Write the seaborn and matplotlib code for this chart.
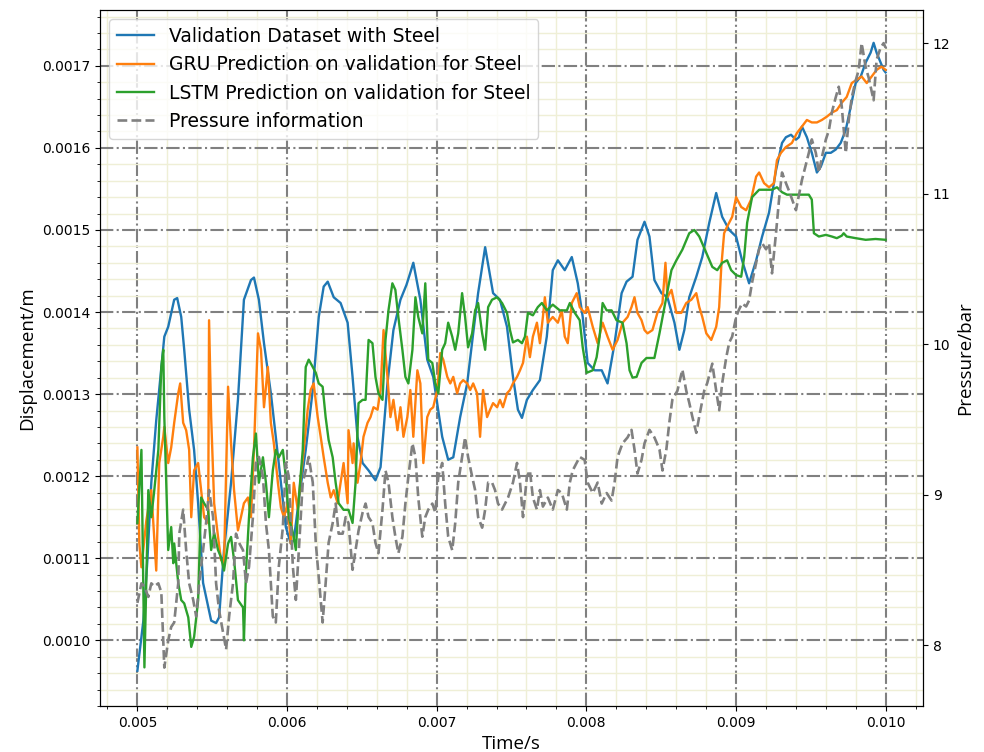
import numpy as np
import matplotlib
matplotlib.use("Agg")
import matplotlib.pyplot as plt
from matplotlib.ticker import AutoMinorLocator
import seaborn as sns

# ---- measured displacement (micrometres) and pressure (bar) against time (ms) ----
valid_ms = [5.000, 5.040, 5.067, 5.093, 5.126, 5.160, 5.180, 5.206, 5.246, 5.266,
            5.293, 5.313, 5.346, 5.379, 5.406, 5.439, 5.493, 5.526, 5.546, 5.579,
            5.626, 5.672, 5.712, 5.759, 5.779, 5.812, 5.846, 5.892, 5.925, 5.959,
            5.992, 6.025, 6.045, 6.079, 6.125, 6.172, 6.212, 6.245, 6.272, 6.312,
            6.358, 6.405, 6.438, 6.471, 6.505, 6.545, 6.591, 6.625, 6.671, 6.711,
            6.758, 6.798, 6.824, 6.844, 6.891, 6.937, 6.977, 7.037, 7.077, 7.111,
            7.157, 7.204, 7.244, 7.277, 7.324, 7.377, 7.423, 7.470, 7.510, 7.543,
            7.570, 7.603, 7.643, 7.690, 7.736, 7.776, 7.810, 7.856, 7.903, 7.943,
            7.976, 8.009, 8.056, 8.103, 8.142, 8.189, 8.236, 8.269, 8.309, 8.342,
            8.389, 8.422, 8.455, 8.502, 8.542, 8.589, 8.622, 8.655, 8.688, 8.735,
            8.775, 8.822, 8.868, 8.908, 8.955, 9.001, 9.041, 9.088, 9.135, 9.175,
            9.221, 9.268, 9.308, 9.334, 9.368, 9.401, 9.421, 9.441, 9.474, 9.507,
            9.541, 9.567, 9.601, 9.634, 9.667, 9.700, 9.734, 9.767, 9.800, 9.834,
            9.867, 9.900, 9.920, 9.940, 9.967, 9.987, 10.000]
valid_um = [963, 1024, 1098, 1192, 1268, 1333, 1370, 1382, 1415, 1417,
            1394, 1354, 1281, 1232, 1167, 1070, 1024, 1021, 1028, 1110,
            1192, 1293, 1415, 1439, 1442, 1415, 1362, 1301, 1248, 1192,
            1138, 1118, 1122, 1171, 1232, 1305, 1394, 1431, 1437, 1418,
            1411, 1387, 1321, 1248, 1216, 1207, 1195, 1211, 1313, 1378,
            1415, 1433, 1448, 1460, 1415, 1342, 1321, 1248, 1220, 1223,
            1272, 1313, 1374, 1423, 1479, 1423, 1415, 1382, 1321, 1281,
            1271, 1293, 1305, 1317, 1370, 1451, 1463, 1451, 1467, 1435,
            1394, 1338, 1329, 1329, 1313, 1362, 1423, 1437, 1443, 1488,
            1510, 1492, 1439, 1423, 1418, 1387, 1354, 1378, 1418, 1443,
            1467, 1509, 1545, 1516, 1500, 1492, 1463, 1435, 1463, 1492,
            1521, 1573, 1606, 1613, 1616, 1610, 1613, 1626, 1613, 1594,
            1570, 1577, 1594, 1594, 1598, 1606, 1622, 1650, 1679, 1687,
            1704, 1716, 1728, 1716, 1704, 1695, 1692]

gru_ms = [5.000, 5.013, 5.027, 5.060, 5.093, 5.126, 5.146, 5.173, 5.180, 5.206,
          5.226, 5.246, 5.273, 5.286, 5.306, 5.326, 5.346, 5.360, 5.379, 5.406,
          5.426, 5.446, 5.473, 5.479, 5.493, 5.513, 5.539, 5.559, 5.579, 5.606,
          5.626, 5.646, 5.672, 5.692, 5.712, 5.739, 5.759, 5.779, 5.806, 5.826,
          5.846, 5.872, 5.892, 5.912, 5.939, 5.959, 5.979, 6.005, 6.025, 6.045,
          6.072, 6.092, 6.112, 6.138, 6.158, 6.178, 6.205, 6.225, 6.245, 6.272,
          6.292, 6.312, 6.338, 6.358, 6.378, 6.405, 6.411, 6.438, 6.445, 6.471,
          6.491, 6.511, 6.538, 6.558, 6.578, 6.605, 6.625, 6.645, 6.671, 6.691,
          6.711, 6.738, 6.758, 6.778, 6.804, 6.824, 6.844, 6.871, 6.891, 6.911,
          6.937, 6.957, 6.977, 7.004, 7.024, 7.044, 7.071, 7.091, 7.111, 7.137,
          7.157, 7.177, 7.204, 7.224, 7.244, 7.270, 7.290, 7.310, 7.337, 7.357,
          7.377, 7.404, 7.423, 7.443, 7.470, 7.490, 7.510, 7.537, 7.557, 7.577,
          7.603, 7.623, 7.643, 7.670, 7.690, 7.710, 7.723, 7.743, 7.776, 7.810,
          7.836, 7.856, 7.876, 7.903, 7.936, 7.956, 7.989, 8.009, 8.043, 8.076,
          8.109, 8.142, 8.176, 8.209, 8.242, 8.276, 8.302, 8.322, 8.342, 8.369,
          8.389, 8.409, 8.442, 8.475, 8.509, 8.529, 8.542, 8.569, 8.602, 8.635,
          8.668, 8.702, 8.735, 8.755, 8.775, 8.802, 8.835, 8.868, 8.888, 8.902,
          8.921, 8.941, 8.975, 9.001, 9.035, 9.068, 9.101, 9.135, 9.155, 9.188,
          9.221, 9.254, 9.274, 9.301, 9.334, 9.374, 9.407, 9.441, 9.474, 9.507,
          9.541, 9.574, 9.607, 9.641, 9.674, 9.707, 9.740, 9.774, 9.807, 9.840,
          9.874, 9.907, 9.940, 9.973, 10.000]
gru_um = [1235, 1118, 1089, 1146, 1183, 1085, 1216, 1248, 1260, 1216,
          1235, 1265, 1301, 1313, 1265, 1256, 1232, 1150, 1207, 1216,
          1183, 1150, 1143, 1390, 1272, 1167, 1126, 1098, 1094, 1309,
          1240, 1183, 1134, 1150, 1167, 1174, 1150, 1232, 1374, 1354,
          1284, 1333, 1265, 1240, 1192, 1162, 1150, 1167, 1118, 1192,
          1159, 1199, 1232, 1281, 1305, 1313, 1272, 1248, 1223, 1192,
          1174, 1183, 1167, 1192, 1216, 1167, 1256, 1216, 1240, 1192,
          1216, 1248, 1265, 1272, 1284, 1281, 1305, 1378, 1321, 1272,
          1293, 1256, 1284, 1248, 1272, 1305, 1248, 1329, 1313, 1216,
          1272, 1281, 1284, 1305, 1350, 1342, 1321, 1313, 1321, 1301,
          1313, 1317, 1313, 1305, 1313, 1301, 1248, 1305, 1272, 1281,
          1289, 1284, 1293, 1284, 1301, 1305, 1313, 1321, 1329, 1338,
          1370, 1345, 1370, 1387, 1362, 1394, 1418, 1387, 1394, 1387,
          1402, 1370, 1362, 1411, 1423, 1406, 1399, 1406, 1382, 1362,
          1387, 1370, 1354, 1366, 1387, 1394, 1406, 1418, 1399, 1390,
          1378, 1374, 1378, 1399, 1411, 1460, 1418, 1427, 1399, 1399,
          1411, 1415, 1423, 1406, 1394, 1374, 1366, 1382, 1406, 1455,
          1496, 1504, 1516, 1540, 1528, 1524, 1537, 1565, 1570, 1557,
          1552, 1557, 1585, 1594, 1601, 1606, 1618, 1626, 1634, 1631,
          1631, 1634, 1638, 1643, 1646, 1655, 1662, 1679, 1683, 1687,
          1679, 1687, 1695, 1699, 1695]

lstm_ms = [5.000, 5.027, 5.047, 5.073, 5.093, 5.113, 5.140, 5.160, 5.173, 5.180,
           5.206, 5.226, 5.240, 5.246, 5.273, 5.293, 5.313, 5.340, 5.360, 5.379,
           5.406, 5.426, 5.446, 5.473, 5.493, 5.513, 5.539, 5.559, 5.579, 5.606,
           5.626, 5.646, 5.672, 5.706, 5.712, 5.726, 5.746, 5.772, 5.792, 5.812,
           5.839, 5.859, 5.879, 5.905, 5.925, 5.945, 5.972, 5.992, 6.012, 6.039,
           6.059, 6.079, 6.105, 6.125, 6.145, 6.172, 6.192, 6.212, 6.238, 6.258,
           6.278, 6.305, 6.325, 6.345, 6.378, 6.411, 6.438, 6.458, 6.478, 6.505,
           6.525, 6.545, 6.571, 6.591, 6.611, 6.638, 6.658, 6.678, 6.704, 6.724,
           6.744, 6.771, 6.791, 6.811, 6.838, 6.858, 6.877, 6.904, 6.924, 6.944,
           6.971, 6.991, 7.011, 7.037, 7.057, 7.077, 7.104, 7.124, 7.144, 7.170,
           7.190, 7.210, 7.237, 7.257, 7.277, 7.304, 7.324, 7.344, 7.370, 7.404,
           7.437, 7.470, 7.490, 7.510, 7.543, 7.570, 7.590, 7.610, 7.643, 7.676,
           7.703, 7.736, 7.776, 7.823, 7.870, 7.890, 7.923, 7.956, 7.976, 8.003,
           8.043, 8.069, 8.089, 8.109, 8.136, 8.169, 8.202, 8.242, 8.269, 8.289,
           8.309, 8.336, 8.369, 8.402, 8.455, 8.489, 8.535, 8.569, 8.602, 8.642,
           8.688, 8.722, 8.755, 8.802, 8.842, 8.875, 8.908, 8.941, 8.968, 9.001,
           9.035, 9.055, 9.075, 9.108, 9.155, 9.201, 9.241, 9.274, 9.308, 9.341,
           9.401, 9.441, 9.487, 9.507, 9.521, 9.554, 9.601, 9.641, 9.674, 9.707,
           9.720, 9.740, 9.800, 9.867, 9.933, 10.000]
lstm_um = [1143, 1232, 967, 1183, 1150, 1183, 1232, 1333, 1354, 1272,
           1110, 1138, 1094, 1118, 1070, 1049, 1045, 1028, 992, 1004,
           1049, 1174, 1167, 1159, 1110, 1131, 1110, 1101, 1085, 1118,
           1126, 1098, 1049, 1040, 1000, 1085, 1150, 1223, 1252, 1192,
           1223, 1192, 1150, 1207, 1232, 1223, 1232, 1199, 1150, 1131,
           1110, 1174, 1232, 1333, 1342, 1333, 1326, 1313, 1309, 1272,
           1244, 1223, 1192, 1167, 1159, 1159, 1143, 1192, 1289, 1293,
           1293, 1366, 1362, 1321, 1301, 1293, 1366, 1402, 1435, 1427,
           1394, 1354, 1321, 1313, 1354, 1418, 1394, 1374, 1435, 1342,
           1338, 1313, 1301, 1354, 1362, 1387, 1370, 1354, 1374, 1423,
           1394, 1357, 1374, 1402, 1411, 1374, 1354, 1406, 1415, 1418,
           1411, 1399, 1378, 1363, 1366, 1362, 1370, 1399, 1396, 1406,
           1411, 1402, 1409, 1402, 1402, 1411, 1399, 1390, 1357, 1326,
           1329, 1345, 1370, 1411, 1402, 1402, 1390, 1387, 1362, 1329,
           1320, 1321, 1338, 1344, 1344, 1374, 1418, 1451, 1463, 1476,
           1496, 1500, 1492, 1472, 1455, 1451, 1460, 1463, 1451, 1445,
           1443, 1467, 1509, 1540, 1549, 1549, 1549, 1552, 1546, 1543,
           1543, 1543, 1543, 1537, 1496, 1492, 1494, 1492, 1490, 1493,
           1496, 1492, 1490, 1488, 1489, 1488]

press_ms = [5.000, 5.027, 5.047, 5.073, 5.093, 5.113, 5.140, 5.160, 5.180, 5.206,
            5.226, 5.246, 5.273, 5.280, 5.306, 5.326, 5.346, 5.373, 5.393, 5.413,
            5.439, 5.459, 5.479, 5.506, 5.526, 5.546, 5.573, 5.593, 5.613, 5.639,
            5.659, 5.679, 5.706, 5.726, 5.746, 5.772, 5.792, 5.812, 5.839, 5.859,
            5.879, 5.905, 5.925, 5.945, 5.972, 5.992, 6.012, 6.039, 6.059, 6.079,
            6.105, 6.125, 6.145, 6.172, 6.192, 6.212, 6.238, 6.258, 6.278, 6.305,
            6.325, 6.345, 6.372, 6.392, 6.411, 6.438, 6.458, 6.478, 6.505, 6.525,
            6.545, 6.571, 6.591, 6.611, 6.638, 6.658, 6.678, 6.704, 6.724, 6.744,
            6.771, 6.791, 6.811, 6.838, 6.858, 6.877, 6.904, 6.924, 6.944, 6.971,
            6.991, 7.011, 7.037, 7.057, 7.077, 7.104, 7.124, 7.144, 7.170, 7.190,
            7.210, 7.237, 7.257, 7.277, 7.304, 7.324, 7.344, 7.370, 7.390, 7.410,
            7.437, 7.457, 7.477, 7.510, 7.537, 7.557, 7.577, 7.603, 7.623, 7.643,
            7.670, 7.690, 7.710, 7.743, 7.776, 7.810, 7.836, 7.870, 7.890, 7.909,
            7.956, 7.989, 8.009, 8.043, 8.076, 8.103, 8.136, 8.169, 8.189, 8.209,
            8.242, 8.276, 8.302, 8.322, 8.342, 8.369, 8.389, 8.422, 8.455, 8.489,
            8.509, 8.535, 8.555, 8.575, 8.609, 8.642, 8.668, 8.688, 8.708, 8.735,
            8.755, 8.788, 8.808, 8.842, 8.868, 8.888, 8.908, 8.935, 8.955, 8.975,
            9.001, 9.021, 9.041, 9.068, 9.088, 9.108, 9.135, 9.155, 9.175, 9.201,
            9.221, 9.241, 9.268, 9.288, 9.308, 9.334, 9.354, 9.401, 9.441, 9.487,
            9.507, 9.534, 9.554, 9.574, 9.601, 9.621, 9.641, 9.667, 9.687, 9.707,
            9.734, 9.754, 9.774, 9.800, 9.820, 9.840, 9.867, 9.887, 9.920, 9.940,
            9.967, 9.987, 10.000]
press_bar = [8.28, 8.41, 8.39, 8.32, 8.41, 8.39, 8.41, 8.35, 7.85, 8.03,
             8.12, 8.15, 8.41, 8.74, 8.90, 8.63, 8.41, 8.30, 8.19, 8.41,
             8.63, 8.81, 9.03, 8.85, 8.41, 8.23, 8.08, 7.97, 8.19, 8.41,
             8.74, 8.68, 8.63, 8.41, 8.52, 8.85, 9.21, 9.25, 9.12, 8.81,
             8.63, 8.19, 8.15, 8.52, 8.78, 9.21, 9.12, 8.52, 8.30, 8.63,
             9.08, 9.16, 9.25, 9.08, 8.68, 8.45, 8.15, 8.41, 8.68, 8.81,
             8.94, 8.74, 8.74, 8.85, 8.81, 8.50, 8.63, 8.76, 8.88, 8.94,
             8.85, 8.81, 8.68, 8.61, 8.90, 9.16, 9.08, 8.85, 8.72, 8.61,
             8.72, 8.94, 9.12, 9.34, 9.25, 8.98, 8.72, 8.85, 8.90, 8.94,
             8.88, 9.12, 9.21, 8.94, 8.72, 8.63, 8.81, 9.08, 9.25, 9.38,
             9.25, 9.12, 9.03, 8.85, 8.78, 8.90, 9.08, 9.08, 9.03, 8.94,
             8.90, 8.94, 8.98, 9.08, 9.21, 9.08, 8.85, 9.12, 9.16, 8.98,
             8.90, 9.03, 8.92, 8.98, 8.90, 9.03, 9.01, 8.90, 9.08, 9.16,
             9.25, 9.23, 9.08, 9.01, 9.08, 8.94, 9.01, 8.96, 9.08, 9.25,
             9.34, 9.38, 9.43, 9.30, 9.14, 9.23, 9.34, 9.43, 9.38, 9.30,
             9.16, 9.30, 9.48, 9.63, 9.69, 9.83, 9.69, 9.61, 9.52, 9.41,
             9.52, 9.69, 9.74, 9.87, 9.69, 9.56, 9.74, 9.91, 10.01, 10.05,
             10.18, 10.23, 10.27, 10.25, 10.29, 10.41, 10.54, 10.63, 10.67, 10.63,
             10.67, 10.47, 10.74, 10.96, 11.14, 11.07, 11.02, 10.89, 11.09, 11.27,
             11.36, 11.27, 11.14, 11.24, 11.36, 11.42, 11.54, 11.64, 11.71, 11.58,
             11.27, 11.49, 11.64, 11.75, 11.82, 12.00, 11.84, 11.77, 11.62, 11.89,
             11.97, 12.00, 11.97]

# unit conversion to SI
def to_s(ms):
    return np.asarray(ms) * 1e-3

def to_m(um):
    return np.asarray(um) * 1e-6

fig = plt.figure(figsize=(9.84, 7.52), dpi=100)
ax = fig.add_subplot(111)
fig.subplots_adjust(left=0.1016, right=0.938, bottom=0.0612, top=0.9867)

blue, orange, green = "#1f77b4", "#ff7f0e", "#2ca02c"

sns.lineplot(x=to_s(valid_ms), y=to_m(valid_um), ax=ax, color=blue, lw=1.7,
             estimator=None, sort=False, label="Validation Dataset with Steel")
sns.lineplot(x=to_s(gru_ms), y=to_m(gru_um), ax=ax, color=orange, lw=1.7,
             estimator=None, sort=False, label="GRU Prediction on validation for Steel")
sns.lineplot(x=to_s(lstm_ms), y=to_m(lstm_um), ax=ax, color=green, lw=1.7,
             estimator=None, sort=False, label="LSTM Prediction on validation for Steel")

ax2 = ax.twinx()
sns.lineplot(x=to_s(press_ms), y=press_bar, ax=ax2, color="gray", lw=1.9,
             linestyle="--", estimator=None, sort=False, label="Pressure information")

ax.set_xlim(0.00475, 0.01025)
ax.set_ylim(0.000920, 0.001768)
ax2.set_ylim(7.595, 12.22)
ax2.set_yticks([8, 9, 10, 11, 12])

ax.xaxis.set_minor_locator(AutoMinorLocator(5))
ax.yaxis.set_minor_locator(AutoMinorLocator(5))
ax.grid(which="minor", color="#efefd6", lw=1.0, ls="-")
ax.grid(which="major", color="gray", lw=1.5, ls="-.")
ax.set_axisbelow(True)

label_font = dict(family="Open Sans", size=13.5)
ax.set_xlabel("Time/s", **label_font)
ax.set_ylabel("Displacement/m", **label_font)
ax2.set_ylabel("Pressure/bar", **label_font)

ax.tick_params(labelsize=10)
ax2.tick_params(labelsize=10)

# one legend for both axes, drawn above all curves
h1, l1 = ax.get_legend_handles_labels()
h2, l2 = ax2.get_legend_handles_labels()
if ax.get_legend() is not None:
    ax.get_legend().remove()
if ax2.get_legend() is not None:
    ax2.get_legend().remove()
ax2.legend(h1 + h2, l1 + l2, loc="upper left", fontsize=13.5, framealpha=0.8)

fig.savefig("out.png", dpi=100)
